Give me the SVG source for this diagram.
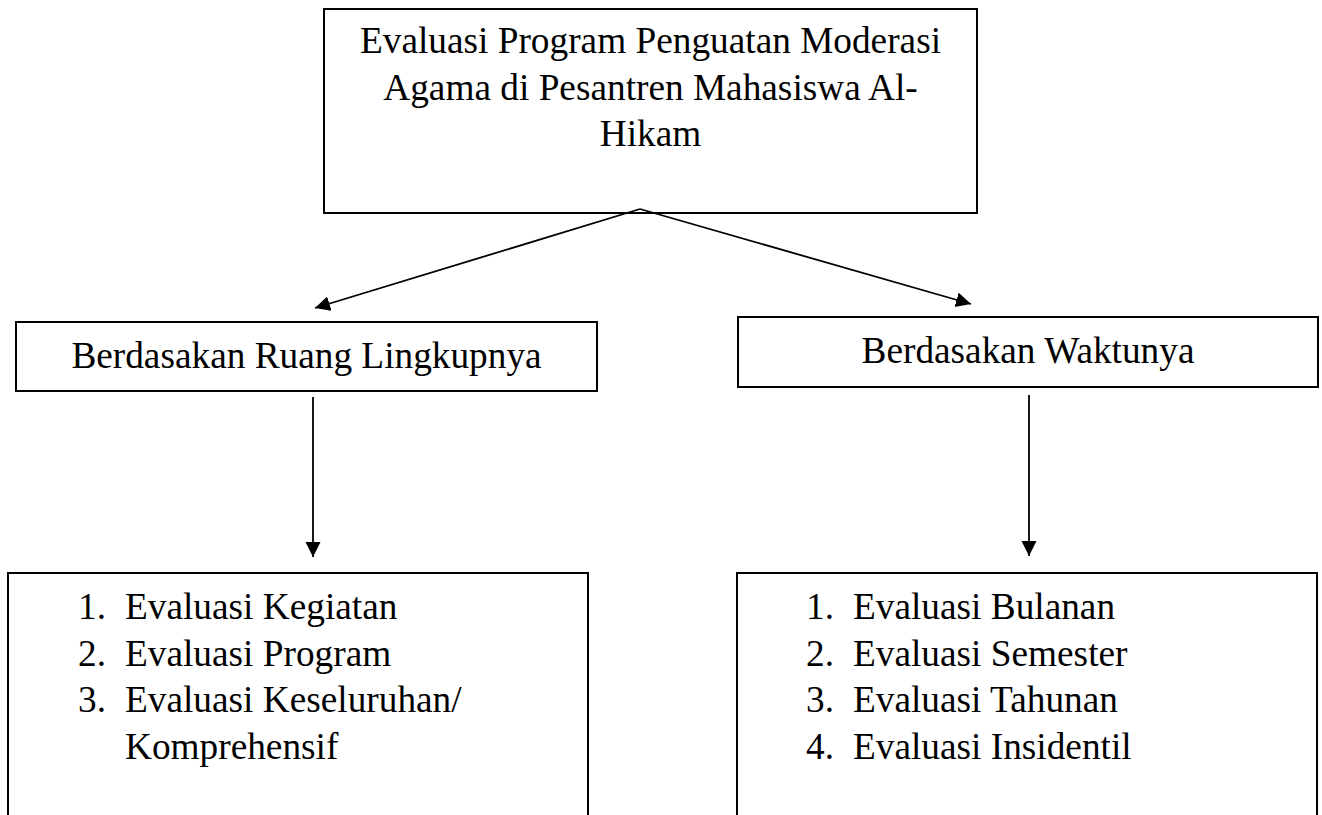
<svg xmlns="http://www.w3.org/2000/svg" width="1322" height="815" viewBox="0 0 1322 815">
<style>
.box{fill:#fff;stroke:#000;stroke-width:2}
.t{font-family:"Liberation Serif","Times New Roman",serif;font-size:37.3px;fill:#000}
.c{text-anchor:middle}
.ln{stroke:#000;stroke-width:1.8;fill:none}
</style>
<defs>
<marker id="ah" markerUnits="userSpaceOnUse" markerWidth="16" markerHeight="16" refX="15" refY="7.5" orient="auto">
<path d="M0,0 L15,7.5 L0,15 z" fill="#000"/>
</marker>
</defs>
<rect width="1322" height="815" fill="#fff"/>
<g id="root">
<rect class="box" x="324" y="9" width="653" height="204"/>
<text class="t c" x="650.5" y="53">Evaluasi Program Penguatan Moderasi</text>
<text class="t c" x="650.5" y="99.5">Agama di Pesantren Mahasiswa Al-</text>
<text class="t c" x="650.5" y="146">Hikam</text>
</g>
<g id="ruang">
<rect class="box" x="16" y="322" width="581" height="69"/>
<text class="t c" x="306.5" y="368">Berdasakan Ruang Lingkupnya</text>
</g>
<g id="waktu">
<rect class="box" x="738" y="317" width="580" height="70"/>
<text class="t c" x="1028" y="363">Berdasakan Waktunya</text>
</g>
<g id="list-ruang">
<path class="box" d="M8,816 V573 H588 V816"/>
<text class="t" x="78" y="619">1.</text><text class="t" x="125" y="619">Evaluasi Kegiatan</text>
<text class="t" x="78" y="665.5">2.</text><text class="t" x="125" y="665.5">Evaluasi Program</text>
<text class="t" x="78" y="712">3.</text><text class="t" x="125" y="712">Evaluasi Keseluruhan/</text>
<text class="t" x="125" y="758.5">Komprehensif</text>
</g>
<g id="list-waktu">
<path class="box" d="M737,816 V573 H1317 V816"/>
<text class="t" x="806" y="619">1.</text><text class="t" x="853" y="619">Evaluasi Bulanan</text>
<text class="t" x="806" y="665.5">2.</text><text class="t" x="853" y="665.5">Evaluasi Semester</text>
<text class="t" x="806" y="712">3.</text><text class="t" x="853" y="712">Evaluasi Tahunan</text>
<text class="t" x="806" y="758.5">4.</text><text class="t" x="853" y="758.5">Evaluasi Insidentil</text>
</g>
<g id="connectors">
<line class="ln" x1="640" y1="209" x2="315" y2="308" marker-end="url(#ah)"/>
<line class="ln" x1="640" y1="209" x2="971" y2="304" marker-end="url(#ah)"/>
<line class="ln" x1="313" y1="397" x2="313" y2="557" marker-end="url(#ah)"/>
<line class="ln" x1="1029" y1="395" x2="1029" y2="556" marker-end="url(#ah)"/>
</g>
</svg>
